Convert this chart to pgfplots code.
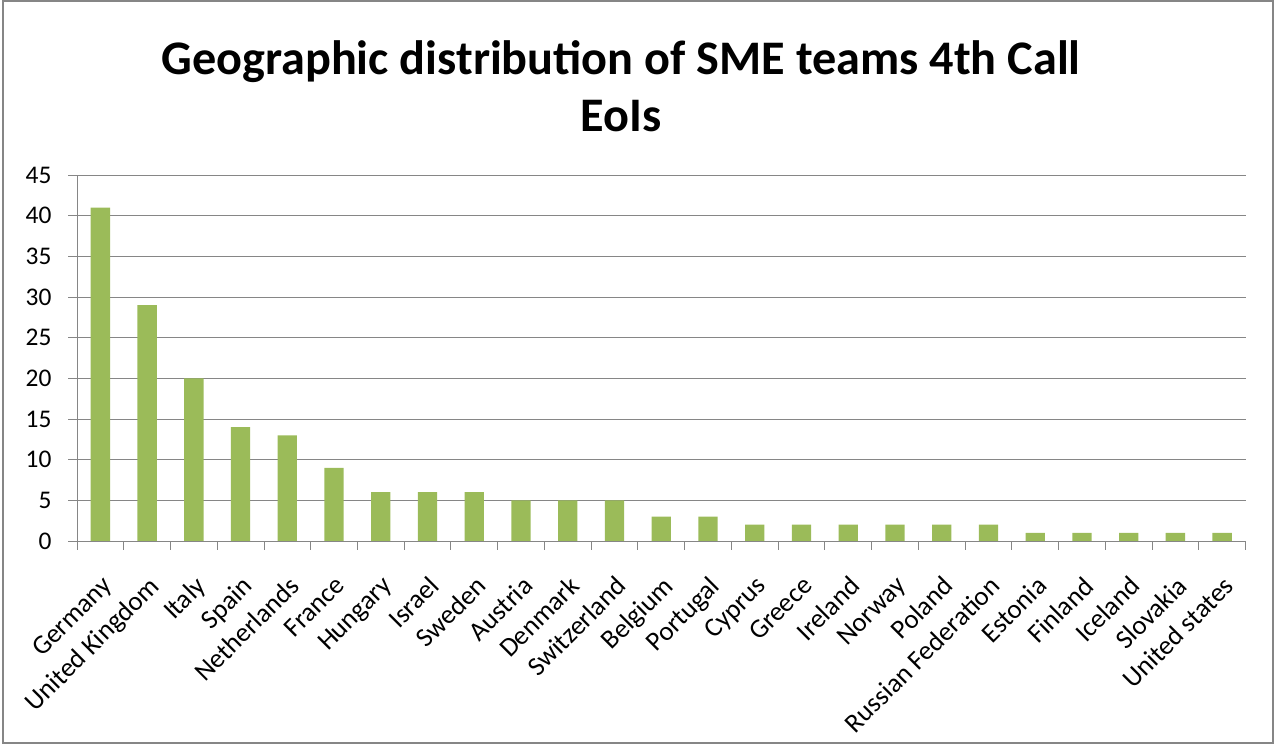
\documentclass[border=0pt]{standalone}
\usepackage{pgfplots}
\pgfplotsset{compat=1.18}
\usepackage{fontspec}
\setmainfont{Carlito}
\definecolor{bargreen}{HTML}{9BBB59}
\definecolor{gridgray}{HTML}{868686}
\begin{document}
\begin{tikzpicture}[x=1bp,y=1bp]
\useasboundingbox (0,0) rectangle (1276,744);
\draw[gridgray, line width=1.6bp] (3,1) rectangle (1273,743);
\node[anchor=base, font=\fontsize{48.4}{58}\selectfont\bfseries] at (621,669) {Geographic distribution of SME teams 4th Call};
\node[anchor=base, font=\fontsize{48.4}{58}\selectfont\bfseries] at (621,612) {EoIs};
\begin{axis}[
  at={(77bp,203bp)}, anchor=south west,
  scale only axis, width=1168.5bp, height=366bp,
  xmin=-0.5, xmax=24.5, ymin=0, ymax=45,
  axis x line=bottom, axis y line=left,
  axis line style={-, gridgray, line width=0.9bp},
  ymajorgrids, major grid style={gridgray, line width=0.9bp},
  ytick={0,5,...,45},
  xtick={0,...,24},
  xticklabels={Germany,United Kingdom,Italy,Spain,Netherlands,France,Hungary,Israel,Sweden,Austria,Denmark,Switzerland,Belgium,Portugal,Cyprus,Greece,Ireland,Norway,Poland,Russian Federation,Estonia,Finland,Iceland,Slovakia,United states},
  minor xtick={-0.5,0.5,...,24.5},
  tick align=outside,
  major x tick style={draw=none},
  every tick/.style={gridgray, line width=0.9bp},
  major tick length=9bp, minor tick length=9bp,
  x tick label style={rotate=45, anchor=north east, font=\fontsize{27}{32}\selectfont, yshift=-14bp, xshift=-14bp},
  y tick label style={font=\fontsize{25.5}{30}\selectfont, xshift=-13bp},
  /pgf/number format/assume math mode=true,
  ybar, bar width=19.3bp,
]
\addplot[fill=bargreen, draw=none] coordinates {
(0,41) (1,29) (2,20) (3,14) (4,13) (5,9) (6,6) (7,6) (8,6) (9,5) (10,5) (11,5) (12,3) (13,3) (14,2) (15,2) (16,2) (17,2) (18,2) (19,2) (20,1) (21,1) (22,1) (23,1) (24,1)
};
\end{axis}
\end{tikzpicture}
\end{document}
